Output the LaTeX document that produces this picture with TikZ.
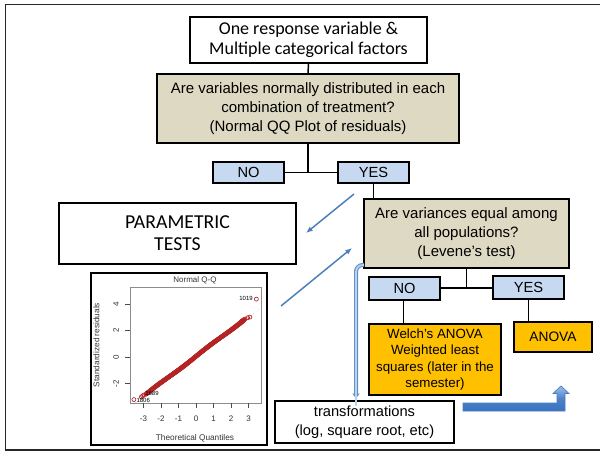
\documentclass[tikz,border=0pt]{standalone}
\usepackage{fontspec}
\setmainfont{Liberation Sans}
\newfontfamily\calibri{Carlito}
\usetikzlibrary{arrows.meta}
\definecolor{tanfill}{HTML}{DDD9C3}
\definecolor{bluefill}{HTML}{C6D9F1}
\definecolor{orangefill}{HTML}{FFC000}
\definecolor{arrowblue}{HTML}{4A7EBB}
\definecolor{lightarrow}{HTML}{B9D1F0}
\definecolor{qqred}{HTML}{B52424}
\definecolor{shadetop}{HTML}{9CC0EE}
\definecolor{shadebot}{HTML}{3A72C0}
\begin{document}
\begin{tikzpicture}[x=0.75pt,y=-0.75pt,
  box/.style={draw=black,line width=1.1pt,inner sep=0pt,align=center,text=black},
  sz/.style 2 args={minimum width=#1,minimum height=#2},
  whitebox/.style={box,fill=white},
  tanbox/.style={box,fill=tanfill,font=\fontsize{11.25}{14}\selectfont},
  answer/.style={box,fill=bluefill,font=\fontsize{11}{13}\selectfont},
  result/.style={box,fill=orangefill},
  link/.style={draw=black,line width=1.1pt},
  thinarrow/.style={draw=arrowblue,line width=1.1pt,-{Latex[length=5pt,width=4pt]}},
  ticklab/.style={font=\fontsize{6}{7}\selectfont,text=black!80,inner sep=0pt},
  qqpt/.style={draw=qqred,line width=0.5pt}
]
\useasboundingbox (0,0) rectangle (600,452);
\fill[white] (0,0) rectangle (600,452);

% slide frame
\draw[line width=1.4pt,black!85] (605,4.5) -- (5.5,4.5) -- (5.5,450) -- (605,450);

% decision boxes
\node[whitebox,sz={177.75pt}{34.5pt},font=\calibri\fontsize{13.5}{15}\selectfont] (top) at (308.5,40)
  {One response variable \&\\Multiple categorical factors};
\node[tanbox,sz={226.5pt}{51.75pt}] (normal) at (308,108.5)
  {Are variables normally distributed in each\\combination of treatment?\\(Normal QQ Plot of residuals)};
\node[answer,sz={53.25pt}{15.75pt}] (no1) at (248.5,172.5) {NO};
\node[answer,sz={53.25pt}{15.75pt}] (yes1) at (373.5,172.5) {YES};
\node[whitebox,sz={177.75pt}{45.75pt},font=\calibri\fontsize{14.8}{16.5}\selectfont] (param) at (177.5,233.5)
  {PARAMETRIC\\TESTS};
\node[tanbox,sz={153.75pt}{51.75pt}] (levene) at (466.5,233.5)
  {Are variances equal among\\all populations?\\(Levene’s test)};
\node[answer,sz={53.25pt}{17.25pt}] (no2) at (404.5,288.5) {NO};
\node[answer,sz={53.25pt}{17.25pt}] (yes2) at (528.5,287.5) {YES};
\node[result,sz={99pt}{53.25pt},font=\fontsize{10}{12.2}\selectfont] (welch) at (435,359.5)
  {Welch’s ANOVA\\Weighted least\\squares (later in the\\semester)};
\node[result,sz={58.5pt}{22.5pt},font=\fontsize{10.3}{12}\selectfont] (anova) at (553,337) {ANOVA};
\node[whitebox,sz={134.25pt}{31.5pt},font=\fontsize{11}{14.25}\selectfont] (trans) at (364.5,422)
  {transformations\\(log, square root, etc)};

% tree connectors
\coordinate (j1) at (308,172.5);
\coordinate (j2) at (466.5,288);
\draw[link] (top.south) -- (normal.north);
\draw[link] (normal.south) -- (j1);
\draw[link] (no1.east) -- (yes1.west);
\draw[link] (yes1.south) -- (yes1.south |- levene.north);
\draw[link] (levene.south) -- (j2);
\draw[link] (no2.east |- j2) -- (yes2.west |- j2);
\draw[link] ([xshift=-0.8pt]no2.south) -- ([xshift=-0.8pt]no2.south |- welch.north);
\draw[link] (yes2.south) -- (yes2.south |- anova.north);

% thin blue arrows
\coordinate (a1s) at (354,194);
\coordinate (a1e) at (306,233);
\coordinate (a2s) at (281,306);
\coordinate (a2e) at (352,248);
\draw[thinarrow] (a1s) -- (a1e);
\draw[thinarrow] (a2s) -- (a2e);

% bent arrow from the Levene box down to transformations
\coordinate (bs) at (364,265);
\coordinate (be) at (356,399);
\draw[draw=arrowblue!85,line width=3pt,rounded corners=5,-{Latex[length=4pt,width=6pt]}]
  (bs) -- (bs -| be) -- (be);
\draw[draw=lightarrow,line width=1.3pt,rounded corners=5]
  (bs) -- (bs -| be) -- ([yshift=-5]be);

% shaded block arrow from transformations up towards ANOVA
\draw[draw=arrowblue,line width=0.5pt,top color=shadetop,bottom color=shadebot,middle color=shadebot!80!shadetop]
  (463,403) -- (557,403) -- (557,393.5) -- (553,393.5) -- (561,386) -- (569,393.5)
  -- (565,393.5) -- (565,411) -- (463,411) -- cycle;

% QQ plot panel
\node[box,fill=white,sz={132pt}{129pt},line width=1.3pt] (qq) at (179,359) {};
\draw[black!45,line width=0.5pt] (130,287) rectangle (261,403);
\node[font=\fontsize{6}{7}\selectfont,text=black!80] (qqtitle) at (195,280) {Normal Q-Q};
\node[font=\fontsize{6.2}{7}\selectfont,text=black!80] (qqxlab) at (195,438) {Theoretical Quantiles};
\node[font=\fontsize{6.2}{7}\selectfont,text=black!80,rotate=90] (qqylab) at (96.5,345) {Standardized residuals};
\foreach \v in {-3,...,3} {
  \draw[black!70,line width=0.4pt] (196+17.5*\v,403) -- (196+17.5*\v,408);
  \node[ticklab] at (196+17.5*\v,419) {\v};
}
\foreach \v in {-2,0,2,4} {
  \draw[black!70,line width=0.4pt] (130,357-13.3*\v) -- (125,357-13.3*\v);
  \node[ticklab,rotate=90] at (116,357-13.3*\v) {\v};
}
\begin{scope}[shift={(196,357)},x=13.125pt,y=9.975pt]
  \draw[black!40,dotted,line width=0.4pt] (-3.6,-3.55) -- (3.85,3.8);
  \draw[qqred,line width=3pt,line cap=round] (-2.8,-2.72) -- (-1.5,-1.45) -- (0,0.05) -- (1.5,1.55) -- (2.7,2.78);
  \foreach \i in {0,...,280} {
    \pgfmathsetmacro\xx{-2.85+\i*0.02}
    \pgfmathsetmacro\yy{\xx+0.05+0.04*sin(\xx*120)}
    \draw[qqpt] (\xx,\yy) circle[radius=1.5pt];
  }
  \foreach \p in {(2.62,2.72),(2.72,2.8),(2.8,2.86),(2.95,2.95),(3.08,3.0),
                  (-3.05,-2.92),(-2.98,-2.86),(-3.12,-3.0)}
    \draw[qqpt] \p circle[radius=1.5pt];
  \draw[qqpt] (3.45,4.35) circle[radius=1.5pt];
  \draw[qqpt] (-3.55,-3.2) circle[radius=1.5pt];
  \node[font=\fontsize{4.5}{5}\selectfont,anchor=east,inner sep=1pt] at (3.33,4.4) {1019};
  \node[font=\fontsize{4.5}{5}\selectfont,anchor=west,inner sep=0.5pt] at (-3.45,-3.3) {1806};
  \node[font=\fontsize{4.5}{5}\selectfont,anchor=west,inner sep=0.5pt] at (-2.95,-2.75) {1689};
\end{scope}
\end{tikzpicture}
\end{document}
